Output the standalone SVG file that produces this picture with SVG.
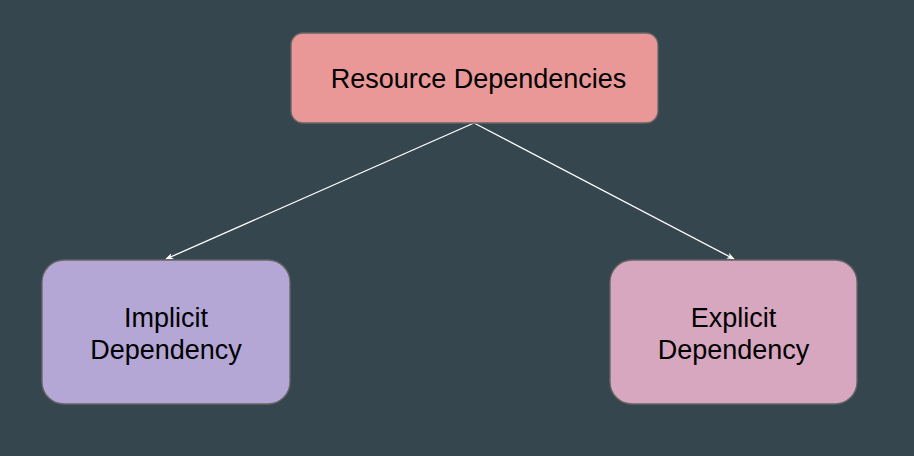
<svg xmlns="http://www.w3.org/2000/svg" width="914" height="456" viewBox="0 0 914 456">
<defs>
<style>
.box{stroke:#666666;stroke-width:1.3}
.lbl{font-family:"Liberation Sans",Arial,sans-serif;font-size:27px;fill:#000000;text-anchor:middle}
.edge{stroke:#ffffff;stroke-width:1.3;fill:none}
</style>
<marker id="arr" viewBox="0 0 10 10" refX="9" refY="5" markerWidth="8" markerHeight="8" orient="auto" markerUnits="userSpaceOnUse">
<path d="M0,1 L10,5 L0,9 L3,5 Z" fill="#ffffff"/>
</marker>
</defs>
<rect width="914" height="456" fill="#36464E"/>
<g id="connectors">
<line class="edge" x1="474" y1="123" x2="166" y2="259" marker-end="url(#arr)"/>
<line class="edge" x1="474" y1="123" x2="734" y2="259" marker-end="url(#arr)"/>
</g>
<g id="resource-dependencies">
<rect class="box" x="291" y="33" width="367" height="90" rx="12" fill="#E99797"/>
<text class="lbl" x="478.5" y="88">Resource Dependencies</text>
</g>
<g id="implicit-dependency">
<rect class="box" x="42" y="260" width="248" height="144" rx="22" fill="#B4A6D5"/>
<text class="lbl" x="166" y="327">Implicit</text>
<text class="lbl" x="166" y="359">Dependency</text>
</g>
<g id="explicit-dependency">
<rect class="box" x="610" y="260" width="247" height="144" rx="22" fill="#D7A6BF"/>
<text class="lbl" x="733.5" y="327">Explicit</text>
<text class="lbl" x="733.5" y="359">Dependency</text>
</g>
</svg>
